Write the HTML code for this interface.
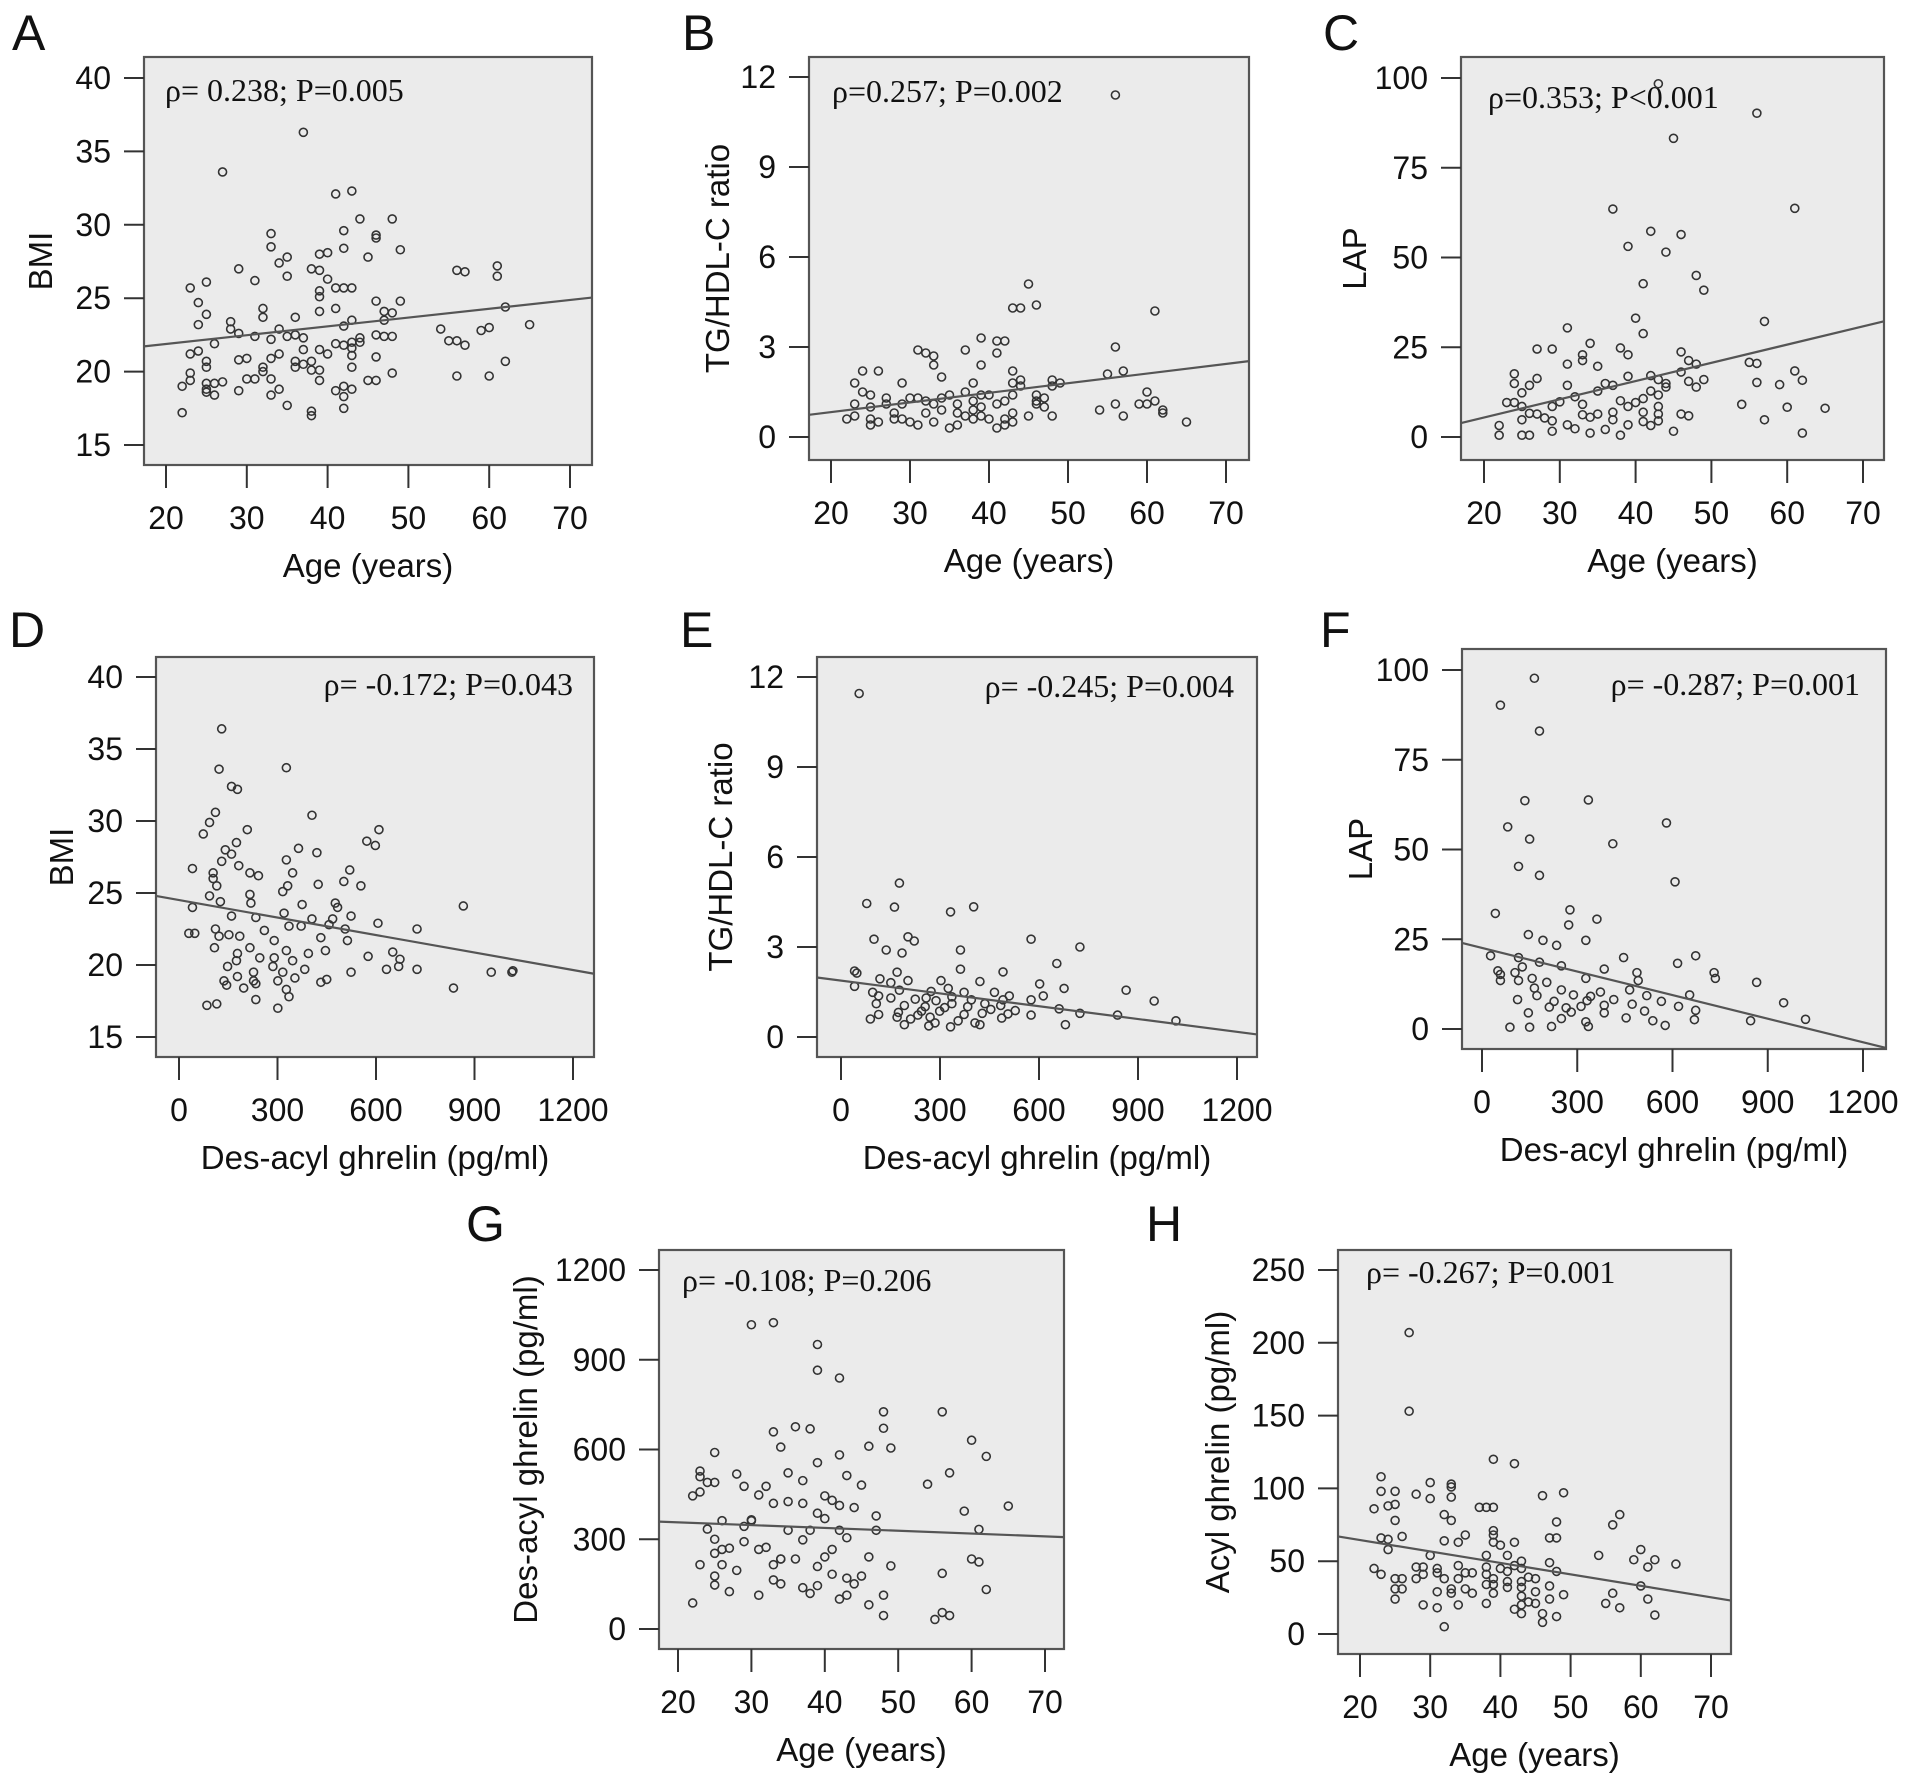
<!DOCTYPE html>
<html><head><meta charset="utf-8"><style>
html,body{margin:0;padding:0;background:#fff;}
svg{display:block;}
.tk{font-family:"Liberation Sans",sans-serif;font-size:32px;fill:#111;}
.tt{font-family:"Liberation Sans",sans-serif;font-size:33px;fill:#111;}
.st{font-family:"Liberation Serif",serif;font-size:32px;fill:#111;}
.pl{font-family:"Liberation Sans",sans-serif;font-size:50px;fill:#111;}
</style></head><body>
<svg id="fig" width="1913" height="1780" viewBox="0 0 1913 1780" xmlns="http://www.w3.org/2000/svg"></svg>
<script>
// ---- data ----
const ageTicks=[20,30,40,50,60,70];
const desTicks=[0,300,600,900,1200];
const bmiTicks=[15,20,25,30,35,40];
const ratioTicks=[0,3,6,9,12];
const lapTicks=[0,25,50,75,100];
const desYTicks=[0,300,600,900,1200];
const acylTicks=[0,50,100,150,200,250];

const aPoints=[[22,19.0],[22,17.2],[23,25.7],[23,21.2],[23,19.9],[23,19.4],[24,24.7],[24,23.2],[24,21.4],[25,26.1],[25,23.9],[25,20.7],[25,20.3],[25,19.2],[25,18.8],[25,18.6],[26,21.9],[26,18.4],[26,19.2],[27,33.6],[27,19.3],[28,23.4],[28,22.9],[29,27.0],[29,22.6],[29,20.8],[29,18.7],[30,20.9],[30,19.5],[31,26.2],[31,22.4],[31,19.5],[32,24.3],[32,23.7],[32,20.3],[32,20.0],[33,29.4],[33,28.5],[33,22.2],[33,20.9],[33,19.5],[33,18.4],[34,27.4],[34,22.9],[34,21.2],[34,18.8],[35,27.8],[35,26.5],[35,22.4],[35,17.7],[36,23.7],[36,22.5],[36,20.7],[36,20.3],[37,36.3],[37,22.3],[37,21.5],[37,20.5],[38,27.0],[38,20.7],[38,20.1],[38,17.3],[38,17.0],[39,28.0],[39,26.9],[39,25.5],[39,25.1],[39,24.1],[39,21.5],[39,20.1],[39,19.4],[40,28.1],[40,26.3],[40,21.2],[41,32.1],[41,25.7],[41,24.3],[41,21.9],[41,18.7],[42,29.6],[42,28.4],[42,25.7],[42,23.1],[42,21.8],[42,19.0],[42,18.3],[42,17.5],[43,32.3],[43,25.7],[43,23.5],[43,22.0],[43,21.6],[43,21.1],[43,20.3],[43,18.8],[44,30.4],[44,22.3],[44,22.0],[45,27.8],[45,19.4],[46,29.3],[46,29.1],[46,24.8],[46,22.5],[46,21.0],[46,19.4],[47,24.1],[47,23.5],[47,22.4],[48,30.4],[48,24.0],[48,22.4],[48,19.9],[49,28.3],[49,24.8],[54,22.9],[55,22.1],[56,26.9],[56,22.1],[56,19.7],[57,26.8],[57,21.8],[59,22.8],[60,23.0],[60,19.7],[61,27.2],[61,26.5],[62,24.4],[62,20.7],[65,23.2]];
const aFit=[20.68,0.060];

const bPoints=[[56,11.4],[45,5.1],[43,4.3],[44,4.3],[46,4.4],[61,4.2],[39,3.3],[41,3.2],[42,3.2],[56,3.0],[31,2.9],[32,2.8],[33,2.7],[37,2.9],[41,2.8],[33,2.4],[39,2.4],[34,2.0],[24,2.2],[26,2.2],[43,2.2],[55,2.1],[57,2.2],[23,1.8],[29,1.8],[43,1.8],[44,1.9],[44,1.7],[48,1.9],[49,1.8],[48,1.7],[38,1.8],[37,1.5],[24,1.5],[25,1.4],[40,1.4],[60,1.5],[46,1.4],[47,1.3],[30,1.3],[31,1.3],[32,1.2],[34,1.3],[35,1.4],[23,1.1],[25,1.0],[27,1.3],[27,1.1],[29,1.1],[33,1.1],[36,1.1],[38,1.2],[39,1.0],[41,1.1],[42,1.2],[46,1.1],[46,1.2],[47,1.0],[56,1.1],[59,1.1],[61,1.2],[60,1.1],[62,0.9],[62,0.8],[54,0.9],[57,0.7],[65,0.5],[48,0.7],[45,0.7],[22,0.6],[23,0.7],[25,0.4],[26,0.5],[28,0.8],[29,0.6],[30,0.5],[31,0.4],[32,0.8],[33,0.5],[35,0.3],[36,0.8],[36,0.4],[37,0.7],[38,0.6],[39,0.7],[40,0.6],[41,0.3],[42,0.6],[42,0.4],[43,0.8],[43,0.5],[25,0.6],[28,0.6],[38,0.9],[34,0.9],[43,1.4],[39,1.4]];
const bFit=[0.188,0.0321];

const cPoints=[[43,98.4],[56,90.2],[45,83.2],[37,63.5],[61,63.7],[42,57.3],[46,56.4],[39,53.1],[44,51.5],[48,45.0],[49,40.9],[41,42.7],[57,32.2],[40,33.1],[31,30.4],[41,28.8],[34,26.1],[27,24.5],[29,24.5],[38,24.8],[39,22.9],[33,22.9],[33,21.3],[46,23.7],[47,21.3],[48,20.3],[55,20.8],[56,20.5],[31,20.3],[35,19.7],[24,17.6],[27,16.3],[42,17.1],[39,16.9],[61,18.4],[62,15.8],[56,15.2],[59,14.6],[46,18.1],[47,15.5],[49,16.0],[48,13.9],[24,14.9],[26,14.4],[31,14.4],[36,14.9],[43,16.0],[44,13.9],[25,12.3],[32,11.2],[33,9.1],[29,8.5],[30,9.8],[23,9.6],[24,9.6],[25,8.5],[26,6.6],[27,6.4],[28,5.3],[29,4.5],[31,3.4],[33,6.2],[34,5.5],[35,6.4],[37,6.9],[39,8.5],[40,9.6],[41,10.7],[42,12.8],[43,11.7],[43,8.5],[43,6.4],[43,4.5],[42,3.2],[41,4.3],[39,3.4],[38,0.5],[36,2.1],[34,1.1],[32,2.3],[29,1.6],[26,0.5],[25,0.5],[22,0.5],[22,3.2],[25,4.8],[37,4.8],[41,6.9],[46,6.4],[47,5.9],[45,1.6],[54,9.1],[60,8.3],[65,8.0],[57,4.8],[62,1.1],[38,10.1],[35,12.8],[37,14.4],[44,14.9]];
const cFit=[-4.74,0.508];

const dPoints=[[130,36.4],[122,33.6],[327,33.7],[160,32.4],[178,32.2],[405,30.4],[111,30.6],[93,29.9],[609,29.4],[74,29.1],[208,29.4],[572,28.6],[598,28.3],[175,28.5],[141,28.0],[364,28.1],[160,27.7],[420,27.8],[327,27.3],[182,26.9],[130,27.2],[41,26.7],[104,26.4],[216,26.4],[346,26.4],[242,26.2],[520,26.6],[104,26.0],[554,25.5],[502,25.8],[424,25.6],[331,25.5],[115,25.5],[316,25.1],[216,24.9],[866,24.1],[93,24.8],[126,24.4],[41,24.0],[219,24.3],[375,24.2],[476,24.3],[483,24.0],[524,23.4],[160,23.4],[320,23.6],[405,23.2],[234,23.3],[468,23.2],[335,22.7],[457,22.8],[606,22.9],[725,22.5],[30,22.2],[48,22.2],[111,22.5],[152,22.1],[260,22.4],[372,22.7],[506,22.5],[122,22.0],[185,22.0],[290,21.7],[432,21.9],[513,21.7],[108,21.2],[216,21.2],[327,21.0],[394,20.8],[446,21.0],[651,20.9],[178,20.8],[246,20.5],[576,20.6],[290,20.5],[175,20.3],[346,20.3],[673,20.4],[148,19.9],[286,19.9],[383,19.7],[227,19.5],[632,19.7],[725,19.7],[669,19.9],[951,19.5],[1014,19.5],[1017,19.6],[524,19.5],[178,19.2],[316,19.5],[137,18.9],[227,18.9],[301,18.9],[353,19.1],[432,18.8],[450,19.0],[836,18.4],[197,18.4],[234,18.7],[145,18.6],[327,18.3],[335,17.8],[234,17.6],[85,17.2],[115,17.3],[301,17.0]];
const dFit=[24.51,-0.00405];

const ePoints=[[55,11.45],[177,5.13],[78,4.45],[162,4.33],[402,4.34],[332,4.17],[576,3.26],[724,3.0],[203,3.34],[100,3.26],[222,3.2],[137,2.9],[362,2.9],[185,2.8],[654,2.45],[41,2.2],[48,2.13],[170,2.16],[362,2.26],[491,2.17],[118,1.94],[151,1.81],[203,1.88],[303,1.88],[421,1.85],[602,1.77],[864,1.56],[41,1.69],[96,1.49],[177,1.56],[273,1.52],[325,1.62],[373,1.49],[465,1.49],[510,1.37],[676,1.62],[613,1.37],[949,1.2],[114,1.37],[151,1.3],[225,1.26],[258,1.3],[288,1.21],[336,1.34],[395,1.24],[436,1.11],[491,1.24],[576,1.24],[661,0.94],[107,1.11],[192,1.05],[255,1.01],[314,0.98],[384,1.01],[454,0.92],[528,0.88],[114,0.75],[174,0.82],[233,0.73],[299,0.86],[373,0.75],[428,0.79],[506,0.77],[724,0.79],[838,0.73],[89,0.6],[211,0.6],[285,0.47],[355,0.54],[421,0.41],[487,0.63],[576,0.73],[680,0.41],[1015,0.54],[192,0.41],[266,0.37],[332,0.34],[406,0.47],[244,0.86],[336,1.11],[170,0.66],[270,0.66],[484,1.05]];
const eFit=[1.88,-0.001423];

const fPoints=[[165,97.7],[58,90.2],[181,83.0],[135,63.6],[335,63.8],[581,57.4],[81,56.3],[150,52.9],[412,51.6],[115,45.3],[181,42.8],[608,41.0],[42,32.2],[277,33.2],[362,30.6],[273,29.0],[146,26.3],[192,24.7],[327,24.7],[27,20.4],[235,23.3],[446,19.9],[673,20.4],[115,19.9],[181,18.6],[616,18.3],[127,17.3],[250,17.6],[731,15.7],[50,16.2],[104,15.7],[385,16.7],[488,15.7],[865,13.0],[115,13.5],[204,13.0],[327,14.1],[492,13.5],[735,14.1],[165,11.4],[250,10.9],[373,10.3],[465,10.9],[173,9.3],[288,9.5],[342,9.1],[519,9.3],[654,9.5],[112,8.2],[227,7.7],[331,7.9],[415,8.2],[565,7.7],[950,7.3],[212,6.1],[265,5.9],[312,6.3],[385,6.6],[473,6.9],[619,6.3],[146,4.5],[281,4.7],[385,4.5],[512,5.0],[673,5.2],[250,2.9],[327,2.0],[454,3.1],[538,2.3],[846,2.3],[1019,2.7],[88,0.5],[150,0.5],[219,0.7],[335,0.7],[577,1.0],[669,2.6],[58,15.2],[158,14.1],[58,13.5]];
const fFit=[22.58,-0.0219];

const gPoints=[[22,87],[23,215],[22,445],[23,458],[23,528],[23,509],[24,490],[25,490],[25,590],[24,334],[25,300],[25,253],[26,362],[26,266],[27,270],[26,215],[25,177],[25,147],[27,125],[28,518],[28,196],[29,477],[29,343],[29,292],[30,1017],[30,362],[31,448],[31,266],[31,113],[32,477],[32,273],[33,1024],[33,659],[33,420],[33,215],[33,164],[34,608],[34,234],[34,151],[35,522],[35,426],[35,330],[36,676],[36,234],[37,496],[37,420],[37,298],[37,138],[38,669],[38,330],[38,119],[39,951],[39,865],[39,556],[39,387],[39,209],[39,145],[40,369],[40,241],[41,430],[41,266],[41,183],[42,839],[42,582],[42,413],[42,330],[42,100],[43,513],[43,305],[43,170],[43,113],[44,406],[44,151],[45,481],[45,177],[46,611],[46,241],[46,81],[47,378],[47,330],[48,726],[48,671],[48,113],[48,45],[49,605],[49,211],[54,484],[55,32],[56,726],[56,186],[56,55],[57,45],[57,522],[59,394],[60,631],[60,234],[61,333],[61,224],[62,577],[62,132],[65,411],[30,365],[40,445],[34,234]];
const gFit=[375.4,-0.94];

const hPoints=[[27,207],[27,153],[39,120],[42,117],[23,108],[30,104],[33,103],[33,101],[49,97],[23,98],[25,98],[28,96],[30,93],[33,94],[46,95],[22,86],[24,88],[25,89],[37,87],[38,87],[39,87],[57,82],[32,82],[33,78],[25,78],[48,77],[56,75],[39,71],[39,68],[26,67],[47,66],[48,66],[23,66],[24,65],[32,64],[34,63],[39,63],[42,63],[40,61],[35,68],[24,58],[60,58],[30,54],[38,54],[41,54],[54,54],[62,51],[59,51],[65,48],[47,49],[43,50],[22,45],[28,46],[29,46],[31,45],[34,47],[38,46],[40,45],[42,47],[43,45],[61,46],[23,41],[29,41],[31,42],[35,42],[36,42],[38,41],[41,43],[48,43],[25,38],[26,38],[28,38],[32,38],[34,38],[39,38],[44,39],[38,34],[39,34],[41,36],[43,36],[45,38],[47,33],[25,31],[26,31],[33,31],[35,31],[41,32],[43,32],[60,33],[31,29],[33,28],[36,28],[39,28],[45,29],[49,27],[43,26],[56,28],[55,21],[57,18],[61,24],[25,24],[29,20],[34,20],[38,21],[43,20],[44,22],[45,21],[47,24],[31,18],[42,17],[43,14],[46,14],[48,12],[62,13],[46,8],[32,5]];
const hFit=[80.3,-0.787];

// ---- layout ----
const NS="http://www.w3.org/2000/svg";
const svg=document.getElementById('fig');
function mk(tag,attrs,parent){const e=document.createElementNS(NS,tag);for(const k in attrs)e.setAttribute(k,attrs[k]);(parent||svg).appendChild(e);return e;}

const panels=[
 {id:'a',letter:'A',lx:12,ly:50,box:[144,57,592,465],xd:[20,70],xp:[166,570],yd:[15,40],yp:[445,78],xt:ageTicks,yt:bmiTicks,pts:aPoints,fit:aFit,xlab:'Age (years)',ylab:'BMI',ylx:40,stat:'ρ= 0.238; P=0.005',sx:165,sy:101,anchor:'start'},
 {id:'b',letter:'B',lx:682,ly:50,box:[809,57,1249,460],xd:[20,70],xp:[831,1226],yd:[0,12],yp:[437,77],xt:ageTicks,yt:ratioTicks,pts:bPoints,fit:bFit,xlab:'Age (years)',ylab:'TG/HDL-C ratio',ylx:717,stat:'ρ=0.257; P=0.002',sx:832,sy:102,anchor:'start'},
 {id:'c',letter:'C',lx:1323,ly:50,box:[1461,57,1884,460],xd:[20,70],xp:[1484,1863],yd:[0,100],yp:[437,78],xt:ageTicks,yt:lapTicks,pts:cPoints,fit:cFit,xlab:'Age (years)',ylab:'LAP',ylx:1354,stat:'ρ=0.353; P<0.001',sx:1488,sy:108,anchor:'start'},
 {id:'d',letter:'D',lx:9,ly:647,box:[156,657,594,1057],xd:[0,1200],xp:[179,573],yd:[15,40],yp:[1037,677],xt:desTicks,yt:bmiTicks,pts:dPoints,fit:dFit,xlab:'Des-acyl ghrelin (pg/ml)',ylab:'BMI',ylx:61,stat:'ρ= -0.172; P=0.043',sx:573,sy:695,anchor:'end'},
 {id:'e',letter:'E',lx:680,ly:647,box:[817,657,1257,1057],xd:[0,1200],xp:[841,1237],yd:[0,12],yp:[1037,677],xt:desTicks,yt:ratioTicks,pts:ePoints,fit:eFit,xlab:'Des-acyl ghrelin (pg/ml)',ylab:'TG/HDL-C ratio',ylx:720,stat:'ρ= -0.245; P=0.004',sx:1234,sy:697,anchor:'end'},
 {id:'f',letter:'F',lx:1320,ly:647,box:[1462,649,1886,1049],xd:[0,1200],xp:[1482,1863],yd:[0,100],yp:[1029,670],xt:desTicks,yt:lapTicks,pts:fPoints,fit:fFit,xlab:'Des-acyl ghrelin (pg/ml)',ylab:'LAP',ylx:1360,stat:'ρ= -0.287; P=0.001',sx:1860,sy:695,anchor:'end'},
 {id:'g',letter:'G',lx:466,ly:1241,box:[659,1250,1064,1649],xd:[20,70],xp:[678,1045],yd:[0,1200],yp:[1629,1270],xt:ageTicks,yt:desYTicks,pts:gPoints,fit:gFit,xlab:'Age (years)',ylab:'Des-acyl ghrelin (pg/ml)',ylx:525,stat:'ρ= -0.108; P=0.206',sx:682,sy:1291,anchor:'start'},
 {id:'h',letter:'H',lx:1146,ly:1241,box:[1338,1250,1731,1654],xd:[20,70],xp:[1360,1711],yd:[0,250],yp:[1634,1270],xt:ageTicks,yt:acylTicks,pts:hPoints,fit:hFit,xlab:'Age (years)',ylab:'Acyl ghrelin (pg/ml)',ylx:1217,stat:'ρ= -0.267; P=0.001',sx:1366,sy:1283,anchor:'start'}
];

panels.forEach(p=>{
  const sx=v=>p.xp[0]+(v-p.xd[0])/(p.xd[1]-p.xd[0])*(p.xp[1]-p.xp[0]);
  const sy=v=>p.yp[0]+(v-p.yd[0])/(p.yd[1]-p.yd[0])*(p.yp[1]-p.yp[0]);
  const ix=px=>p.xd[0]+(px-p.xp[0])/(p.xp[1]-p.xp[0])*(p.xd[1]-p.xd[0]);
  const [l,t,r,b]=p.box;
  const g=mk('g',{});
  
  
  const lt=mk('text',{x:p.lx,y:p.ly,class:'pl'},g);lt.textContent=p.letter;
  
  
  const rect=mk('rect',{x:l,y:t,width:r-l,height:b-t,fill:'#ebebeb',stroke:'#555','stroke-width':2.2},g);
  
  
  p.yt.forEach(v=>{
    const y=sy(v);
    const tl=mk('line',{x1:l-20,x2:l,y1:y,y2:y,stroke:'#333','stroke-width':2},g);
    
    
    const tx=mk('text',{x:l-33,y:y+11,class:'tk','text-anchor':'end'},g);tx.textContent=v;
    
    
  });
  p.xt.forEach(v=>{
    const x=sx(v);
    const tl=mk('line',{x1:x,x2:x,y1:b,y2:b+23,stroke:'#333','stroke-width':2},g);
    
    
    const tx=mk('text',{x:x,y:b+64,class:'tk','text-anchor':'middle'},g);tx.textContent=v;
    
    
  });
  const xl=mk('text',{x:(l+r)/2,y:b+112,class:'tt','text-anchor':'middle'},g);xl.textContent=p.xlab;
  
  
  const ym=(t+b)/2;
  const yl=mk('text',{x:p.ylx,y:ym,class:'tt','text-anchor':'middle',transform:'rotate(-90 '+(p.ylx)+' '+ym+') translate(0 12)'},g);yl.textContent=p.ylab;
  
  
  const st=mk('text',{x:p.sx,y:p.sy,class:'st','text-anchor':p.anchor},g);st.textContent=p.stat;
  
  
  p.pts.forEach(d=>{
    const c=mk('circle',{cx:sx(d[0]),cy:sy(d[1]),r:4,fill:'none',stroke:'#333','stroke-width':1.6},g);
    
    
  });
  const x0=ix(l),x1=ix(r);
  const fl=mk('line',{x1:l,y1:sy(p.fit[0]+p.fit[1]*x0),x2:r,y2:sy(p.fit[0]+p.fit[1]*x1),stroke:'#555','stroke-width':2.2},g);
  
  
});
</script>
</body></html>
